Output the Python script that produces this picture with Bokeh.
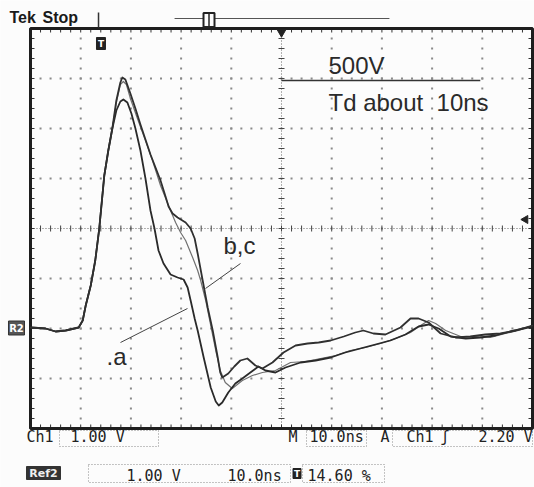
import numpy as np
from bokeh.plotting import figure
from bokeh.embed import file_html
from bokeh.resources import INLINE
from bokeh.core.properties import value

# ---------------- data: time in ns (10 ns/div), voltage in V (1 V/div, Ref2 ground = 0) ----
rise_t = [0.0, 3.0, 5.0, 7.0, 9.6, 10.4, 11.0, 12.0, 12.9, 13.7, 14.7, 15.5, 16.3]
rise_v = [0.02, 0.0, -0.06, -0.04, 0.02, 0.16, 0.46, 0.86, 1.36, 2.0, 3.06, 3.56, 4.0]

a_tail_t = [17.1, 17.9, 18.5, 19.3, 20.1, 20.9, 21.9, 22.9, 23.9, 24.7, 25.5, 26.5, 27.9,
            29.3, 30.5, 31.3, 31.9, 32.7, 33.3, 34.5, 35.9, 36.9, 37.5, 38.2, 39.4, 40.8,
            42.2, 43.8, 45.4, 46.8, 48.8, 50.8, 53.8, 56.8, 59.8, 62.7, 65.7, 68.7, 71.7,
            74.7, 77.3, 79.3, 81.3, 83.7, 86.7, 89.6, 92.6, 95.6, 100.0]
a_tail_v = [4.36, 4.54, 4.58, 4.52, 4.3, 4.0, 3.56, 3.0, 2.36, 2.0, 1.56, 1.3, 1.08,
            1.02, 0.98, 0.82, 0.56, 0.2, -0.04, -0.58, -1.18, -1.46, -1.54, -1.48, -1.28, -1.1,
            -1.0, -0.88, -0.76, -0.84, -0.88, -0.78, -0.68, -0.64, -0.58, -0.48, -0.4, -0.32, -0.24,
            -0.12, 0.04, 0.08, 0.0, -0.16, -0.2, -0.18, -0.14, -0.06, 0.04]

b_tail_t = [17.1, 17.9, 18.3, 18.9, 19.9, 20.9, 21.9, 22.9, 23.9, 24.9, 25.9, 26.9, 27.5,
            28.3, 29.3, 30.9, 31.9, 32.7, 33.3, 34.3, 35.3, 36.3, 37.3, 37.8, 38.2, 39.4,
            40.6, 41.8, 43.2, 44.8, 46.2, 48.2, 50.4, 52.8, 55.2, 57.4, 59.8, 62.4, 64.7,
            66.3, 68.3, 70.7, 73.7, 75.7, 77.3, 79.3, 81.7, 84.7, 87.6, 90.6, 93.6, 96.6, 100.0]
b_tail_v = [4.56, 4.92, 5.02, 4.98, 4.7, 4.4, 4.08, 3.78, 3.48, 3.22, 2.96, 2.64, 2.44,
            2.3, 2.22, 2.12, 2.0, 1.8, 1.5, 0.96, 0.42, -0.04, -0.58, -0.88, -0.98, -0.9,
            -0.76, -0.64, -0.6, -0.74, -0.8, -0.68, -0.48, -0.34, -0.3, -0.28, -0.24, -0.16, -0.08,
            -0.04, -0.1, -0.12, 0.02, 0.2, 0.2, 0.12, -0.1, -0.18, -0.16, -0.12, -0.1, -0.04, 0.06]

c_tail_t = [17.1, 17.9, 18.5, 19.1, 19.9, 21.3, 22.9, 24.3, 25.9, 27.1, 27.9, 28.9, 29.9,
            30.9, 32.3, 33.3, 33.9, 34.9, 35.9, 36.9, 37.8, 38.8, 40.2, 42.2, 44.2, 46.2,
            48.8, 51.8, 54.8, 57.8, 60.8, 63.7, 66.7, 69.7, 72.7, 75.7, 77.7, 79.3, 80.7,
            82.7, 85.7, 88.6, 91.6, 94.6, 97.2, 100.0]
c_tail_v = [4.52, 4.88, 4.94, 4.88, 4.6, 4.2, 3.76, 3.36, 2.86, 2.56, 2.36, 2.12, 1.92,
            1.76, 1.42, 1.16, 0.96, 0.56, 0.06, -0.44, -0.84, -1.08, -1.2, -1.04, -0.94, -0.88,
            -0.84, -0.68, -0.66, -0.6, -0.54, -0.44, -0.38, -0.3, -0.2, -0.08, 0.06, 0.16, 0.1,
            -0.04, -0.16, -0.16, -0.18, -0.1, -0.04, 0.06]

a_t, a_v = rise_t + a_tail_t, rise_v + a_tail_v
b_t, b_v = rise_t + b_tail_t, rise_v + b_tail_v
c_t, c_v = rise_t + c_tail_t, rise_v + c_tail_v

# screen graticule
T_MIN, T_MAX = 0.0, 100.0
V_MIN, V_MAX = -2.0, 6.0
T_CENTRE, V_CENTRE = 50.0, 2.0
x_grid = [10, 20, 30, 40, 60, 70, 80, 90]
y_grid = [-1, 0, 1, 3, 4, 5]

# annotation texts
note_texts = ["500V", "Td about \u00a010ns", "b,c", ".a"]
status_top = ["Tek", "Stop"]
line1_texts = ["Ch1", "1.00 V", "M", "10.0ns", "A", "Ch1", "\u0283", "2.20 V"]
line2_texts = ["1.00 V", "10.0ns", "14.60 %"]

# ---------------- figure ----------------
PX_NS = 5.02   # pixels per ns
PX_V = 50.0    # pixels per volt

p = figure(width=534, height=487, x_range=(-5.976, 100.398), y_range=(-3.18, 6.56),
           output_backend="svg", toolbar_location=None, x_axis_type=None, y_axis_type=None,
           min_border=0, title=None, background_fill_color="#fcfcfc",
           border_fill_color="#fcfcfc", outline_line_color=None)

minor_x = np.arange(T_MIN, T_MAX + 0.01, 2.0)
minor_y = np.arange(V_MIN, V_MAX + 0.01, 0.2)

# grid dots
gx = np.concatenate([np.repeat(x_grid, len(minor_y)), np.tile(minor_x, len(y_grid))])
gy = np.concatenate([np.tile(minor_y, len(x_grid)), np.repeat(y_grid, len(minor_x))])
p.scatter(gx, gy, marker="square", size=2, color="#8a8a8a", line_width=0)

# centre cross
p.segment(x0=[T_MIN], y0=[V_CENTRE], x1=[T_MAX], y1=[V_CENTRE], line_color="#666",
          line_width=1, line_dash="1 2")
p.segment(x0=[T_CENTRE], y0=[V_MIN], x1=[T_CENTRE], y1=[V_MAX], line_color="#666",
          line_width=1, line_dash="1 2")
p.segment(x0=minor_x, y0=V_CENTRE - 3 / PX_V, x1=minor_x, y1=V_CENTRE + 3 / PX_V,
          line_color="#444", line_width=1)
p.segment(x0=T_CENTRE - 3 / PX_NS, y0=minor_y, x1=T_CENTRE + 3 / PX_NS, y1=minor_y,
          line_color="#444", line_width=1)

# edge ticks
tk = 4
p.segment(x0=minor_x, y0=V_MAX, x1=minor_x, y1=V_MAX - tk / PX_V, line_color="#333", line_width=1)
p.segment(x0=minor_x, y0=V_MIN, x1=minor_x, y1=V_MIN + tk / PX_V, line_color="#333", line_width=1)
p.segment(x0=T_MIN, y0=minor_y, x1=T_MIN + tk / PX_NS, y1=minor_y, line_color="#333", line_width=1)
p.segment(x0=T_MAX, y0=minor_y, x1=T_MAX - tk / PX_NS, y1=minor_y, line_color="#333", line_width=1)

# frame
p.quad(left=[T_MIN], right=[T_MAX], bottom=[V_MIN], top=[V_MAX], fill_alpha=0,
       line_color="#1e1e1e", line_width=3)

# traces
p.line(c_t, c_v, line_color="#707070", line_width=1.2, line_join="round")
p.line(a_t, a_v, line_color="#2a2a2a", line_width=1.8, line_join="round")
p.line(b_t, b_v, line_color="#303030", line_width=1.8, line_join="round")

# annotations on screen (y values include the renderer's baseline offset)
sans = value("Liberation Sans")
p.text(x=[59.36, 59.36, 38.45, 15.14], y=[5.26, 4.52, 1.66, -0.56], text=note_texts,
       text_font=sans, text_font_size="24px", text_color="#2a2a2a",
       text_baseline="alphabetic", text_align="left")
p.segment(x0=[T_CENTRE], y0=[4.96], x1=[89.6], y1=[4.96], line_color="#333", line_width=1.5)
# leader lines
p.segment(x0=[17.93, 34.86], y0=[-0.28, 0.80], x1=[31.27, 41.83], y1=[0.40, 1.30],
          line_color="#444", line_width=1)

# top status area
p.text(x=[-4.18, 2.39], y=[6.22, 6.22], text=status_top, text_font=sans,
       text_font_size="16px", text_font_style="bold", text_color="#1a1a1a",
       text_baseline="alphabetic")
p.segment(x0=[13.55], y0=[6.02], x1=[13.55], y1=[6.32], line_color="#333", line_width=1.5)
p.segment(x0=[28.7], y0=[6.2], x1=[71.5], y1=[6.2], line_color="#555", line_width=1)
p.rect(x=[35.56], y=[6.17], width=2.19, height=0.28, fill_color="#fcfcfc",
       line_color="#222", line_width=2)
p.segment(x0=[35.56], y0=[6.04], x1=[35.56], y1=[6.30], line_color="#222", line_width=1.5)
p.scatter(x=[T_CENTRE], y=[5.93], marker="inverted_triangle", size=9, color="#222")
p.scatter(x=[98.6], y=[2.18], marker="triangle", angle=np.pi / 2, size=8, color="#222")

# trigger icons (white T on dark)
p.rect(x=[14.04, 53.09], y=[5.70, -2.90], width=[1.79, 1.59], height=[0.24, 0.20],
       fill_color="#222", line_color="#222")
p.text(x=[14.04, 53.09], y=[5.70, -2.90], text=["T", "T"], text_font=value("DejaVu Sans"),
       text_font_size="9px", text_font_style="bold", text_color="white",
       text_align="center", text_baseline="middle")

# R2 ground marker
p.rect(x=[-2.79], y=[0.01], width=3.19, height=0.28, fill_color="#555", line_color="#333")
p.text(x=[-2.79], y=[0.01], text=["R2"], text_font=value("DejaVu Sans"), text_font_size="10px",
       text_font_style="bold", text_color="white", text_align="center", text_baseline="middle")

# bottom readouts
mono = value("DejaVu Sans Mono")
p.quad(left=[5.78, 54.98, 72.11, 11.55, 54.18], right=[25.50, 66.93, 100.0, 51.79, 70.52],
       bottom=[-2.36, -2.36, -2.36, -3.08, -3.08], top=[-2.04, -2.04, -2.04, -2.72, -2.72],
       fill_alpha=0, line_color="#8a8a8a", line_width=1, line_dash="1 2")
p.text(x=[-0.80, 7.97, 51.39, 55.58, 69.72, 74.90, 81.67, 89.24], y=[-2.17] * 8,
       text=line1_texts, text_font=mono, text_font_size="15px", text_color="#222",
       text_baseline="alphabetic")
p.text(x=[19.12, 39.24, 55.18], y=[-2.94] * 3, text=line2_texts, text_font=mono,
       text_font_size="15px", text_color="#222", text_baseline="alphabetic")
p.rect(x=[2.59], y=[-2.89], width=6.77, height=0.26, fill_color="#333", line_color="#333")
p.text(x=[2.59], y=[-2.89], text=["Ref2"], text_font=value("DejaVu Sans"), text_font_size="11px",
       text_font_style="bold", text_color="#eeeeee", text_align="center", text_baseline="middle")

open("out.html", "w").write(file_html(p, INLINE))
